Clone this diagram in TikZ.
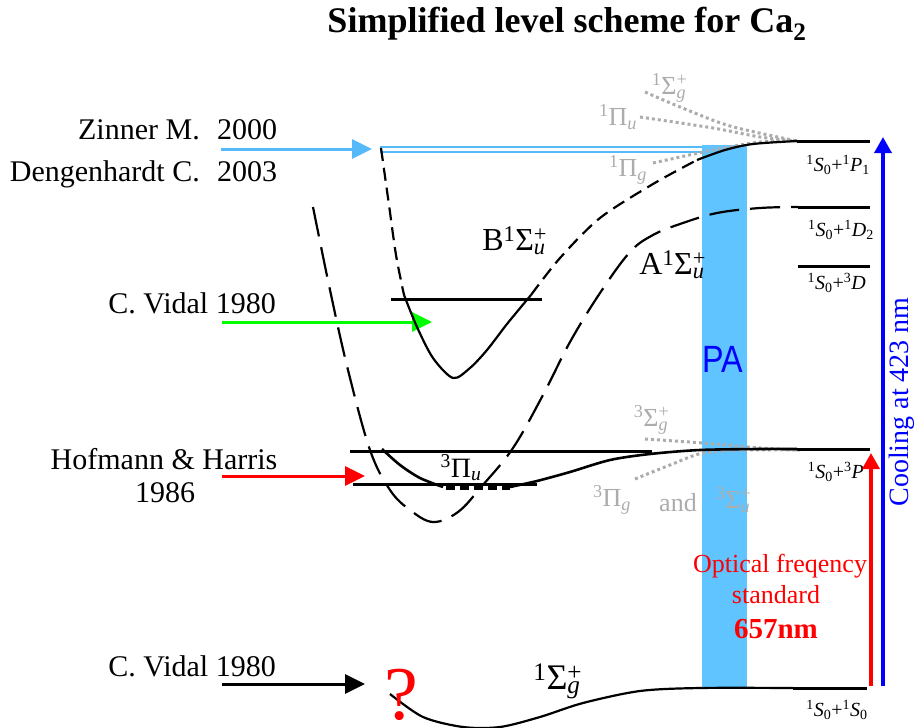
\documentclass[tikz,border=0pt]{standalone}
\usepackage{fontspec}
\setmainfont{Liberation Serif}
\newfontfamily\sansf{Liberation Sans}
\usetikzlibrary{arrows.meta}
\definecolor{paBlue}{RGB}{95,196,255}
\definecolor{lblue}{RGB}{85,185,250}
\definecolor{grayl}{RGB}{172,172,172}
\definecolor{pgreen}{RGB}{0,255,0}
\newcommand{\fsz}[1]{\fontsize{#1}{#1}\selectfont}
\newcommand{\mterm}[4]{\textsuperscript{#1}#2\rlap{\textsuperscript{#4}}\textsubscript{\textit{#3}}}
\newcommand{\apair}[4]{\textsuperscript{#1}\textit{S}\textsubscript{0}+\textsuperscript{#2}\textit{#3}\textsubscript{#4}}
\tikzset{
  curve/.style={line width=2.2pt, black},
  lvl/.style={line width=3pt, black},
  dotg/.style={grayl, line width=3pt, dash pattern=on 3pt off 3pt},
  ltxt/.style={font=\fsz{30}, inner sep=0pt},
  rlab/.style={font=\fsz{20}, inner sep=0pt},
  glab/.style={font=\fsz{26}, text=grayl, inner sep=0pt},
  mlab/.style={font=\fsz{32}, inner sep=0pt},
  harr/.style={line width=3pt, -{Triangle[length=20pt,width=19pt]}},
  varr/.style={line width=3.5pt, -{Triangle[length=16pt,width=17pt]}}
}
\begin{document}
\begin{tikzpicture}[x=1pt,y=-1pt]
\useasboundingbox (0,0) rectangle (919,728);
% PA bar
\fill[paBlue] (702,145) rectangle (747,688);
\node[font=\sansf\fsz{38}, text=blue, inner sep=0pt, xscale=0.85] (pa) at (723,359) {PA};
% title
\node[font=\bfseries\fsz{36}, inner sep=0pt] (title) at (567,24) {Simplified level scheme for Ca\textsubscript{2}};
% left texts
\node[ltxt, anchor=base east] (zin) at (200,139) {Zinner M.};
\node[ltxt, anchor=base west] (zinY) at (217,139) {2000};
\node[ltxt, anchor=base east] (den) at (200,181) {Dengenhardt C.};
\node[ltxt, anchor=base west] (denY) at (217,181) {2003};
\node[ltxt, anchor=base east] (vid1) at (276,313) {C. Vidal 1980};
\node[ltxt, anchor=base] (hof) at (164,469) {Hofmann \& Harris};
\node[ltxt, anchor=base] (hofY) at (165,502) {1986};
\node[ltxt, anchor=base east] (vid2) at (276,676) {C. Vidal 1980};
% arrows from the left
\coordinate (bS) at (221,149); \coordinate (bE) at (372,149);
\coordinate (gS) at (222,322); \coordinate (gE) at (432,322);
\coordinate (rS) at (222,476); \coordinate (rE) at (365,476);
\coordinate (kS) at (222,684); \coordinate (kE) at (365,684);
\draw[harr, lblue] (bS) -- (bE);
\draw[harr, pgreen] (gS) -- (gE);
\draw[harr, red] (rS) -- (rE);
\draw[harr, black] (kS) -- (kE);
% double light blue line
\draw[lblue, line width=1.9pt] (380,147.2) -- (702,147.2);
\draw[lblue, line width=1.9pt] (380,151.8) -- (702,151.8);
% gray dotted curves near 1P1
\draw[dotg] plot[smooth] coordinates {(645,92) (680,107) (730,126) (797,141)};
\draw[dotg] plot[smooth] coordinates {(640,117) (713,128) (760,137) (797,141)};
\draw[dotg] plot[smooth] coordinates {(653,163) (713,150) (760,142) (797,141)};
% gray dotted near 3P
\draw[dotg] plot[smooth] coordinates {(645,439) (703,443) (760,448) (800,450)};
\draw[dotg] plot[smooth] coordinates {(635,479) (670,465) (703,453) (747,450) (800,450)};
% A state (wide dashed)
\draw[curve, dash pattern=on 30pt off 11pt] plot[smooth, tension=0.6] coordinates {(313,207) (330,290) (348,370) (370,450) (390,490) (410,510) (433,522) (458,512) (482,486) (513,448) (543,395) (570,342) (600,293) (630,252) (653,235) (680,224) (717,213) (760,208) (798,207)};
% B state
\draw[curve, dash pattern=on 13pt off 7pt] plot[smooth] coordinates {(381,148) (389,205) (396,255) (404,295)};
\draw[curve] plot[smooth] coordinates {(404,295) (417,327) (433,358) (453,378) (470,368) (487,350) (507,324) (531,295)};
\draw[curve, dash pattern=on 13pt off 7pt] plot[smooth] coordinates {(531,295) (560,258) (600,218) (653,184) (697,160)};
\draw[curve] plot[smooth] coordinates {(697,160) (725,150) (753,144) (797,141)};
% 3Pi_u
\draw[curve, line width=2.6pt] plot[smooth] coordinates {(382,449) (400,465) (420,478) (443,487)};
\draw[line width=3.5pt, dash pattern=on 9pt off 5pt] (446,488) -- (510,488);
\draw[curve, line width=2.6pt] plot[smooth] coordinates {(510,487) (537,481) (570,472) (610,460) (650,454) (700,450) (760,449) (797,449)};
% ground state
\draw[curve] plot[smooth] coordinates {(390,694) (423,717) (463,727) (500,727) (540,717) (583,703) (640,691) (700,688) (793,688)};
% level lines
\draw[lvl] (797,141) -- (870,141);
\draw[lvl] (798,207) -- (870,207);
\draw[lvl] (798,266) -- (870,266);
\draw[lvl] (797,449) -- (870,449);
\draw[lvl] (793,688) -- (867,688);
\draw[lvl] (350,451) -- (652,451);
\draw[lvl] (353,484) -- (537,484);
\draw[lvl] (391,299) -- (542,299);
% right labels
\node[rlab] (l1p) at (838,165) {\apair{1}{1}{P}{1}};
\node[rlab] (l1d) at (841,230) {\apair{1}{1}{D}{2}};
\node[rlab] (l3d) at (837,283) {\apair{1}{3}{D}{}};
\node[rlab] (l3p) at (836,472) {\apair{1}{3}{P}{}};
\node[rlab] (l1s) at (837,710) {\apair{1}{1}{S}{0}};
% molecular labels
\node[mlab] (bl) at (514,241) {B\mterm{1}{Σ}{u}{+}};
\node[mlab] (al) at (672,265) {A\mterm{1}{Σ}{u}{+}};
\node[font=\fsz{28}, inner sep=0pt] (pil) at (461,468) {\mterm{3}{Π}{u}{}};
\node[font=\fsz{36}, inner sep=0pt] (gl) at (557,681) {\mterm{1}{Σ}{g}{+}};
% gray labels
\node[glab] (g1) at (669,88) {\mterm{1}{Σ}{g}{+}};
\node[glab] (g2) at (618,117) {\mterm{1}{Π}{u}{}};
\node[glab] (g3) at (628,170) {\mterm{1}{Π}{g}{}};
\node[glab] (g4) at (651,420) {\mterm{3}{Σ}{g}{+}};
\node[glab] (g5) at (612,500) {\mterm{3}{Π}{g}{}};
\node[glab] (g6) at (678,503) {and};
\node[glab] (g7) at (733,500) {\mterm{3}{Σ}{u}{+}};
% vertical arrows
\coordinate (cb) at (883,686); \coordinate (ct) at (883,137);
\coordinate (rb) at (871,686); \coordinate (rt) at (871,453);
\draw[varr, blue] (cb) -- (ct);
\draw[varr, red] (rb) -- (rt);
\node[font=\fsz{28}, text=blue, rotate=90, inner sep=0pt] (cool) at (902,402) {Cooling at 423 nm};
% optical standard text
\node[font=\fsz{26}, text=red, inner sep=0pt, anchor=base] (opt1) at (780,572) {Optical freqency};
\node[font=\fsz{26}, text=red, inner sep=0pt, anchor=base] (opt2) at (776,603) {standard};
\node[font=\bfseries\fsz{29}, text=red, inner sep=0pt, anchor=base] (opt3) at (776,638) {657nm};
% question mark
\node[font=\fsz{76}, text=red, inner sep=0pt, anchor=base] (qm) at (401,719) {?};
\end{tikzpicture}
\end{document}
